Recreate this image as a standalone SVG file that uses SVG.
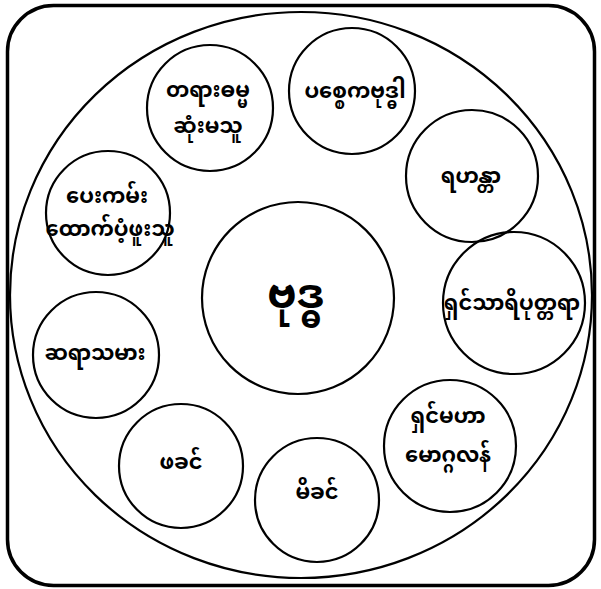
<svg xmlns="http://www.w3.org/2000/svg" width="601" height="589" viewBox="0 0 601 589">
<style>
.c{fill:none;stroke:#000;stroke-width:2.2}
.t{font-family:"Noto Sans Myanmar","Padauk","Myanmar Text","Noto Sans",sans-serif;font-size:21px;font-weight:bold;text-anchor:middle;dominant-baseline:central;fill:#000}
</style>
<rect x="0" y="0" width="601" height="589" fill="#fff"/>
<rect x="7.5" y="5.5" width="587" height="580" rx="46" ry="46" fill="none" stroke="#000" stroke-width="3.5"/>
<g id="frame"><ellipse cx="301" cy="295" rx="291" ry="283" class="c"/></g>
<g id="connectors"></g>
<g id="n0"><circle cx="298" cy="298" r="96" class="c"/><text x="296" y="298" class="t" style="font-size:42px">ဗုဒ္ဓ</text></g>
<g id="n1"><circle cx="210" cy="108" r="63" class="c"/><text x="208" y="92" class="t">တရားဓမ္မ</text><text x="208" y="128" class="t">ဆုံးမသူ</text></g>
<g id="n2"><circle cx="352" cy="91" r="63" class="c"/><text x="355" y="93" class="t">ပစ္စေကဗုဒ္ဓါ</text></g>
<g id="n3"><circle cx="472" cy="176" r="66" class="c"/><text x="471" y="178" class="t">ရဟန္တာ</text></g>
<g id="n4"><circle cx="514" cy="303" r="71" class="c"/><text x="512" y="305" class="t">ရှင်သာရိပုတ္တရာ</text></g>
<g id="n5"><circle cx="450" cy="446" r="66" class="c"/><text x="448" y="418" class="t">ရှင်မဟာ</text><text x="448" y="457" class="t">မောဂ္ဂလန်</text></g>
<g id="n6"><circle cx="317" cy="500" r="62" class="c"/><text x="317" y="494" class="t">မိခင်</text></g>
<g id="n7"><circle cx="181" cy="466" r="62" class="c"/><text x="181" y="464" class="t">ဖခင်</text></g>
<g id="n8"><circle cx="96" cy="355" r="63" class="c"/><text x="95" y="355" class="t">ဆရာသမား</text></g>
<g id="n9"><circle cx="108" cy="213" r="62" class="c"/><text x="107" y="198" class="t">ပေးကမ်း</text><text x="110" y="231" class="t">ထောက်ပံ့ဖူးသူ</text></g>
</svg>
